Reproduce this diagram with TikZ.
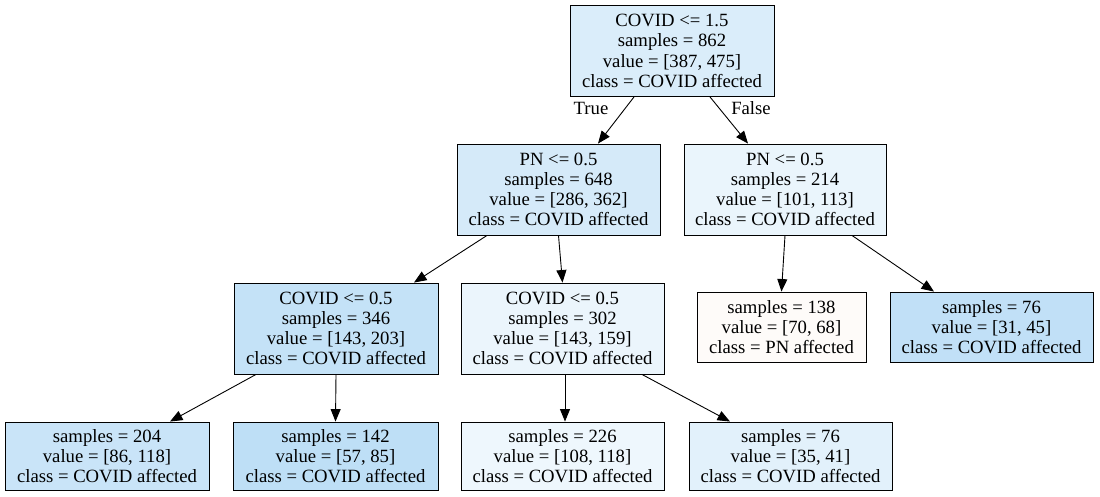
\documentclass[tikz,border=0pt]{standalone}
\usepackage{fontspec}
\setmainfont{Liberation Serif}
\usetikzlibrary{arrows.meta}
\definecolor{c0}{RGB}{218,237,250}
\definecolor{c1}{RGB}{213,234,249}
\definecolor{c2}{RGB}{234,245,252}
\definecolor{c3}{RGB}{196,226,247}
\definecolor{c4}{RGB}{235,245,252}
\definecolor{c5}{RGB}{254,251,249}
\definecolor{c6}{RGB}{193,224,247}
\definecolor{c7}{RGB}{201,228,248}
\definecolor{c8}{RGB}{190,223,246}
\definecolor{c9}{RGB}{238,247,253}
\definecolor{c10}{RGB}{226,241,251}
\tikzset{
  tnode/.style={draw=black, line width=0.9pt, rectangle, align=center, inner sep=0pt,
    font=\fontsize{18.7}{20.2}\selectfont, minimum height=91pt},
  leaf/.style={tnode, minimum height=69pt},
  edge/.style={line width=0.9pt, -{Triangle[length=12.5pt,width=10pt]}},
  elab/.style={font=\fontsize{18.7}{20}\selectfont, inner sep=0pt}
}
\begin{document}
\begin{tikzpicture}[x=1pt,y=-1pt]
\useasboundingbox (0,0) rectangle (1100,497);
\node[tnode, fill=c0, minimum width=204pt] (root) at (672,51) {COVID <= 1.5\\samples = 862\\value = [387, 475]\\class = COVID affected};
\node[tnode, fill=c1, minimum width=203pt] (pn1) at (558.5,189.5) {PN <= 0.5\\samples = 648\\value = [286, 362]\\class = COVID affected};
\node[tnode, fill=c2, minimum width=202pt] (pn2) at (785,189.5) {PN <= 0.5\\samples = 214\\value = [101, 113]\\class = COVID affected};
\node[tnode, fill=c3, minimum width=204pt] (c1) at (336,328.5) {COVID <= 0.5\\samples = 346\\value = [143, 203]\\class = COVID affected};
\node[tnode, fill=c4, minimum width=203pt] (c2) at (562.5,328.5) {COVID <= 0.5\\samples = 302\\value = [143, 159]\\class = COVID affected};
\node[leaf, fill=c5, minimum width=169pt, minimum height=70pt] (l138) at (781.5,327) {samples = 138\\value = [70, 68]\\class = PN affected};
\node[leaf, fill=c6, minimum width=203pt, minimum height=70pt] (r76) at (991.5,327) {samples = 76\\value = [31, 45]\\class = COVID affected};
\node[leaf, fill=c7, minimum width=204pt, minimum height=68pt] (b204) at (107,456) {samples = 204\\value = [86, 118]\\class = COVID affected};
\node[leaf, fill=c8, minimum width=205pt, minimum height=68pt] (b142) at (335.5,456) {samples = 142\\value = [57, 85]\\class = COVID affected};
\node[leaf, fill=c9, minimum width=203pt, minimum height=68pt] (b226) at (562.5,456) {samples = 226\\value = [108, 118]\\class = COVID affected};
\node[leaf, fill=c10, minimum width=203pt, minimum height=68pt] (b76) at (790.5,456) {samples = 76\\value = [35, 41]\\class = COVID affected};
\draw[edge] ([xshift=-38pt]root.south) -- ([xshift=39.5pt]pn1.north);
\draw[edge] ([xshift=38pt]root.south) -- ([xshift=-37pt]pn2.north);
\node[elab] (tlab) at (591,108) {True};
\node[elab] (flab) at (751,108) {False};
\draw[edge] ([xshift=-71.5pt]pn1.south) -- ([xshift=78pt]c1.north);
\draw[edge] (pn1.south) -- (c2.north);
\draw[edge] (pn2.south) -- (l138.north);
\draw[edge] ([xshift=67pt]pn2.south) -- ([xshift=-57.5pt]r76.north);
\draw[edge] ([xshift=-80pt]c1.south) -- ([xshift=63pt]b204.north);
\draw[edge] (c1.south) -- (b142.north);
\draw[edge] ([xshift=2.5pt]c2.south) -- ([xshift=2.5pt]b226.north);
\draw[edge] ([xshift=79.5pt]c2.south) -- ([xshift=-60.5pt]b76.north);
\end{tikzpicture}
\end{document}
